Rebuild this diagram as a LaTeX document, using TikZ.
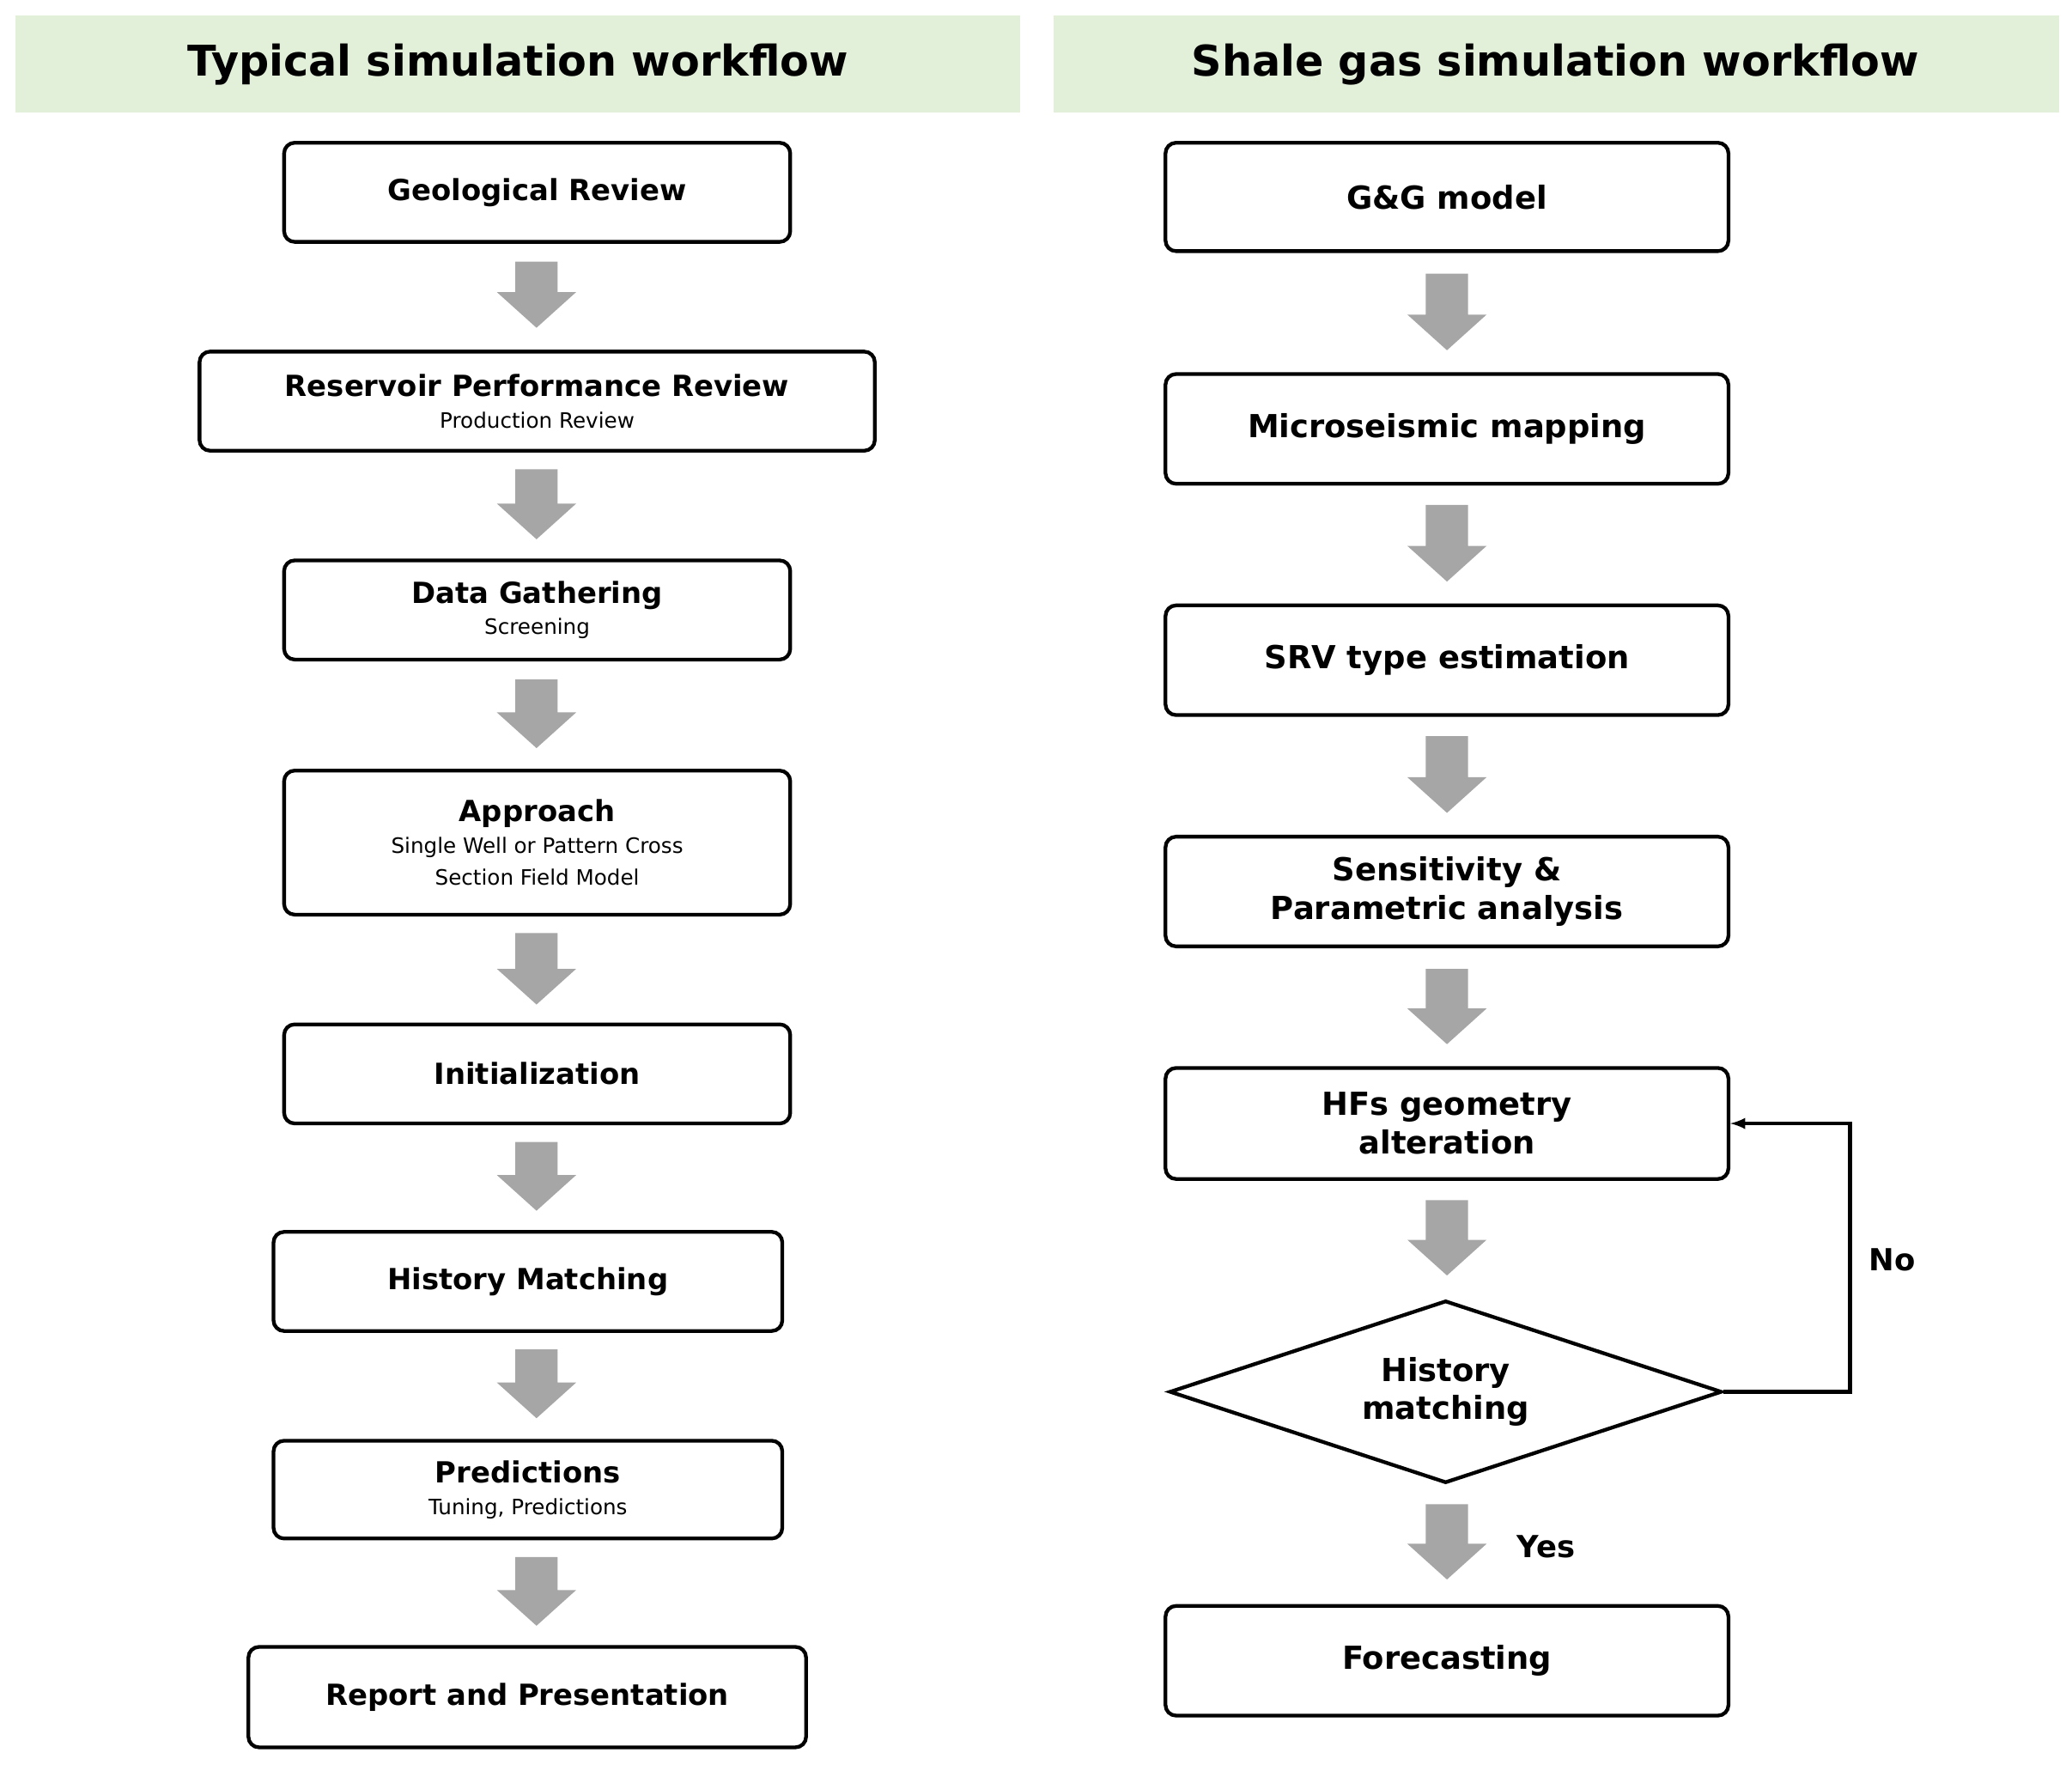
\documentclass[tikz,border=0pt]{standalone}
\usepackage{fontspec}
\setmainfont{DejaVu Sans}
\usetikzlibrary{shapes.geometric}
\newcommand\smtxt{\fontsize{16}{20}\selectfont\mdseries}
\begin{document}
\begin{tikzpicture}[x=1pt,y=-1pt,
 box/.style={draw=black,line width=2.8pt,rounded corners=8pt,align=center,inner sep=0pt,font=\fontsize{22}{26}\selectfont\bfseries},
 lab/.style={font=\fontsize{23}{28}\selectfont\bfseries}]
\useasboundingbox (0,0) rectangle (1568,1335);
\fill[color={rgb,255:red,226;green,239;blue,217}] (12,12) rectangle (772,85);
\fill[color={rgb,255:red,226;green,239;blue,217}] (797,12) rectangle (1558,85);
\node[lab,font=\fontsize{32}{40}\selectfont\bfseries] (t1) at (392,49) {Typical simulation workflow};
\node[lab,font=\fontsize{32}{40}\selectfont\bfseries] (t2) at (1177,49) {Shale gas simulation workflow};
\newcommand\bx[6]{\node[box,minimum width=#3-#2,minimum height=#5-#4] (#1) at ({(#2+#3)/2},{(#4+#5)/2}) {#6};}
\newcommand\arr[3]{\fill[color={rgb,255:red,166;green,166;blue,166}] (#1-16,#2) -- (#1+16,#2) -- (#1+16,#3-27) -- (#1+30,#3-27) -- (#1,#3) -- (#1-30,#3-27) -- (#1-16,#3-27) -- cycle;}
\bx{a1}{215}{598}{108}{183}{Geological Review}
\bx{a2}{151}{662}{266}{341}{Reservoir Performance Review\\[-2pt]{\smtxt Production Review}}
\bx{a3}{215}{598}{424}{499}{Data Gathering\\[-2pt]{\smtxt Screening}}
\bx{a4}{215}{598}{583}{692}{Approach\\[-2pt]{\smtxt Single Well or Pattern Cross}\\[-2pt]{\smtxt Section Field Model}}
\bx{a5}{215}{598}{775}{850}{Initialization}
\bx{a6}{207}{592}{932}{1007}{History Matching}
\bx{a7}{207}{592}{1090}{1164}{Predictions\\[-2pt]{\smtxt Tuning, Predictions}}
\bx{a8}{188}{610}{1246}{1322}{Report and Presentation}
\arr{406}{198}{248}\arr{406}{355}{408}\arr{406}{514}{566}\arr{406}{706}{760}
\arr{406}{864}{916}\arr{406}{1021}{1073}\arr{406}{1178}{1230}
\tikzset{box/.append style={font=\fontsize{24}{29}\selectfont\bfseries}}
\bx{b1}{882}{1308}{108}{190}{G\&G model}
\bx{b2}{882}{1308}{283}{366}{Microseismic mapping}
\bx{b3}{882}{1308}{458}{541}{SRV type estimation}
\bx{b4}{882}{1308}{633}{716}{Sensitivity \&\\Parametric analysis}
\bx{b5}{882}{1308}{808}{892}{HFs geometry\\alteration}
\node[draw,line width=2.8pt,diamond,aspect=3.05,minimum width=418,minimum height=138,inner sep=0pt,align=center,font=\fontsize{24}{29}\selectfont\bfseries] (d) at (1094,1053) {History\\matching};
\bx{b6}{882}{1308}{1215}{1298}{Forecasting}
\arr{1095}{207}{265}\arr{1095}{382}{440}\arr{1095}{557}{615}\arr{1095}{733}{790}\arr{1095}{908}{965}\arr{1095}{1138}{1195}
\coordinate (c1) at (1400,1053);
\coordinate (c2) at (1400,850);
\draw[line width=2.8pt,-latex] (d.east) -- (c1) -- (c2) -- (b5.east);
\node[lab] (no) at (1432,953) {No};
\node[lab] (yes) at (1170,1170) {Yes};
\end{tikzpicture}
\end{document}
